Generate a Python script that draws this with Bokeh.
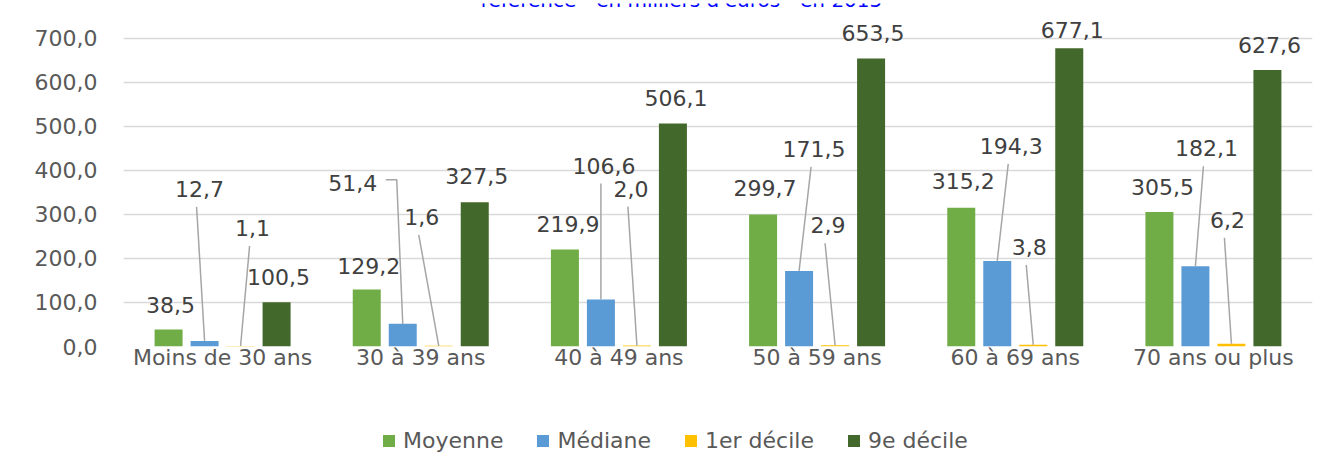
from bokeh.plotting import figure
from bokeh.layouts import column
from bokeh.models import (ColumnDataSource, LabelSet, Legend, LegendItem, FixedTicker,
                          CustomJSTickFormatter, Range1d)
from bokeh.core.properties import value
from bokeh.embed import file_html
from bokeh.resources import INLINE

# ---------------- data ----------------
title_text = "référence - en milliers d'euros - en 2015"
categories = ["Moins de 30 ans", "30 à 39 ans", "40 à 49 ans",
              "50 à 59 ans", "60 à 69 ans", "70 ans ou plus"]
series_names = ["Moyenne", "Médiane", "1er décile", "9e décile"]
moyenne = [38.5, 129.2, 219.9, 299.7, 315.2, 305.5]
mediane = [12.7, 51.4, 106.6, 171.5, 194.3, 182.1]
decile1 = [1.1, 1.6, 2.0, 2.9, 3.8, 6.2]
decile9 = [100.5, 327.5, 506.1, 653.5, 677.1, 627.6]
y_ticks = [0, 100, 200, 300, 400, 500, 600, 700]

# ---------------- styles ----------------
colors = ["#70AD47", "#5B9BD5", "#FFC000", "#43682B"]
FONT = "DejaVu Sans"
FS = "22px"
BORDER = "#D9D9D9"
FW = 1189
FH = 334
PX_Y = 308.4 / 700            # pixels per value unit
YMAX = FH / PX_Y
PX_X = FW / len(categories)   # pixels per category unit
bar_offsets_px = [-54, -18, 18, 54]
bar_width_px = 28

# label offsets (pixels, from bar top) per series, per category
lab_dx = [
    [2, 2, 3, 2, 2, 3],
    [-5, -50, 3, 15, 14, 11],
    [12, -17, -6, -7, -4, -4],
    [2, 2, 3, 2, 3, 2],
]
lab_dy = [
    [25, 24, 26, 26, 27, 25],
    [152, 141, 134, 122, 115, 118],
    [118, 129, 157, 120, 98, 124],
    [25, 26, 26, 26, 18, 25],
]
leader = [False, True, True, False]
elbow = {(1, 1)}  # (series, category) whose leader starts at the label's right side

TOTAL_W = 1322
ML, MR, MT = 123, 10, 3
P_H = 371
LEG_H = 92

# ---------- title strip (only its lower part shows, as in the source) ----------
tf = figure(width=TOTAL_W, height=9, x_range=Range1d(0, FW), y_range=Range1d(0, 9),
            output_backend="svg", toolbar_location=None, title=None,
            min_border_left=ML, min_border_right=MR, min_border_top=0, min_border_bottom=0,
            x_axis_location=None, y_axis_location=None)
tf.grid.visible = False
tf.outline_line_color = None
tf.text(x=[681 - ML], y=[0.5], text=[title_text], text_align="center", text_baseline="bottom",
        text_font=value(FONT), text_font_size="20px", text_color="#0000FF")

# ---------- main chart ----------
p = figure(width=TOTAL_W, height=P_H,
           x_range=Range1d(0, len(categories)), y_range=Range1d(0, YMAX),
           output_backend="svg", toolbar_location=None, title=None,
           min_border_left=ML, min_border_right=MR,
           min_border_top=MT, min_border_bottom=P_H - MT - FH)
p.outline_line_color = None
p.background_fill_color = "white"
p.border_fill_color = "white"
p.xgrid.visible = False
p.ygrid.grid_line_color = BORDER
p.ygrid.grid_line_width = 1.5
p.ygrid.ticker = FixedTicker(ticks=y_ticks)

p.yaxis.ticker = FixedTicker(ticks=y_ticks)
p.yaxis.formatter = CustomJSTickFormatter(code="return tick.toFixed(1).replace('.', ',');")
p.xaxis.ticker = FixedTicker(ticks=[i + 0.5 for i in range(len(categories))])
p.xaxis.formatter = CustomJSTickFormatter(args=dict(labels=categories),
                                          code="return labels[Math.floor(tick)];")
for ax in (p.xaxis[0], p.yaxis[0]):
    ax.axis_line_color = None
    ax.major_tick_line_color = None
    ax.minor_tick_line_color = None
    ax.major_tick_out = 0
    ax.major_tick_in = 0
    ax.minor_tick_out = 0
    ax.major_label_text_font = FONT
    ax.major_label_text_font_size = FS
    ax.major_label_text_color = "#595959"
p.yaxis.major_label_standoff = 26
p.xaxis.major_label_standoff = -2

# ---------- legend strip (its renderers share the bar data, which lies below its view) ----------
lf = figure(width=TOTAL_W, height=LEG_H, x_range=Range1d(0, len(categories)),
            y_range=Range1d(5000, 5000 + LEG_H),
            output_backend="svg", toolbar_location=None, title=None,
            min_border_left=ML, min_border_right=MR, min_border_top=0, min_border_bottom=0,
            x_axis_location=None, y_axis_location=None)
lf.grid.visible = False
lf.outline_line_color = None
lf.border_fill_color = "white"

series_vals = [moyenne, mediane, decile1, decile9]
leg_renderers = []
lab_x, lab_y, lab_t, lab_ox, lab_oy = [], [], [], [], []
lx_list, ly_list = [], []
for s, vals in enumerate(series_vals):
    xs = [i + 0.5 + bar_offsets_px[s] / PX_X for i in range(len(vals))]
    src = ColumnDataSource(dict(x=xs, top=vals))
    p.vbar(x="x", top="top", width=bar_width_px / PX_X, source=src,
           fill_color=colors[s], line_color=None)
    leg_renderers.append(lf.vbar(x="x", top="top", width=bar_width_px / PX_X, source=src,
                                 fill_color=colors[s], line_color=None))
    for i, v in enumerate(vals):
        lab_x.append(xs[i]); lab_y.append(v)
        lab_t.append(f"{v:.1f}".replace(".", ","))
        dx, dy = lab_dx[s][i], lab_dy[s][i]
        lab_ox.append(dx); lab_oy.append(dy)
        if leader[s]:
            cx = xs[i] + dx / PX_X
            cy = v + dy / PX_Y
            if (s, i) in elbow:
                lx_list.append([cx + 33 / PX_X, cx + 44 / PX_X, xs[i]])
                ly_list.append([cy + 3 / PX_Y, cy + 3 / PX_Y, v])
            else:
                lx_list.append([cx - 3 / PX_X, xs[i]])
                ly_list.append([cy - 18 / PX_Y, v])

p.multi_line(xs=lx_list, ys=ly_list, line_color="#A6A6A6", line_width=1.5)

lab_src = ColumnDataSource(dict(x=lab_x, y=lab_y, text=lab_t, ox=lab_ox, oy=lab_oy))
p.add_layout(LabelSet(x="x", y="y", text="text", x_offset="ox", y_offset="oy",
                      source=lab_src, text_align="center", text_baseline="middle",
                      text_font=value(FONT), text_font_size=FS, text_color="#404040"))

legend = Legend(items=[LegendItem(label=n, renderers=[r]) for n, r in zip(series_names, leg_renderers)],
                orientation="horizontal", location=(258, 19),
                glyph_width=15, glyph_height=15, label_standoff=7, spacing=32,
                padding=0, margin=0, border_line_color=None, background_fill_alpha=0,
                label_text_font=FONT, label_text_font_size=FS, label_text_color="#595959")
lf.add_layout(legend)

layout = column(tf, p, lf, spacing=0)
open("out.html", "w").write(file_html(layout, INLINE))
